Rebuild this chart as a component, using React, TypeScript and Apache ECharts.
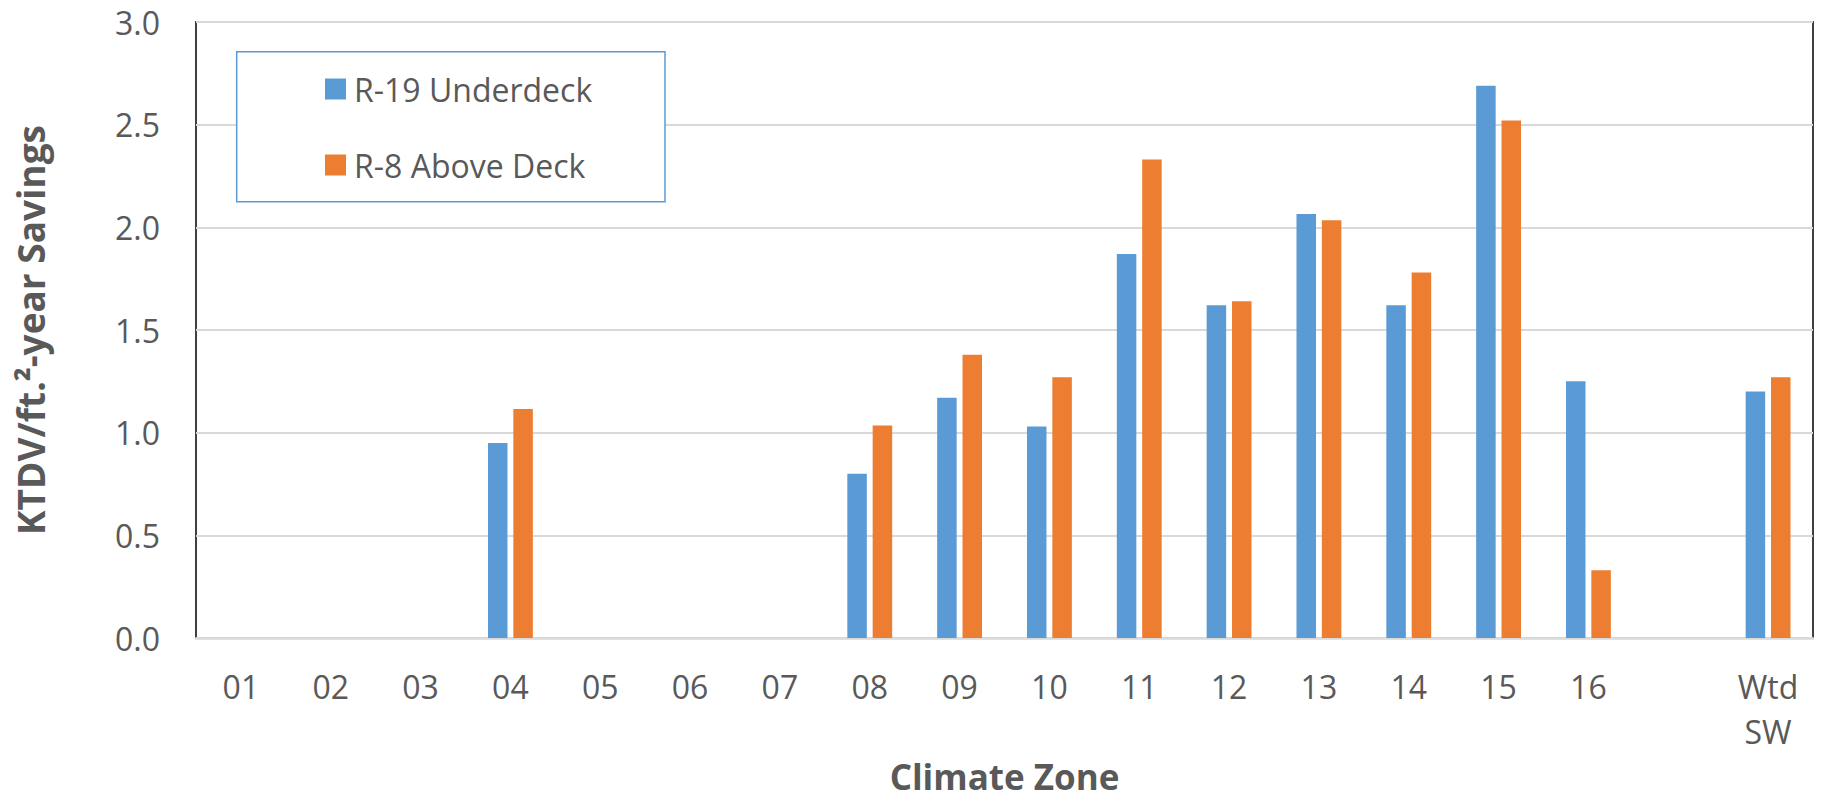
import React, { useEffect, useRef } from "react";
import * as echarts from "echarts";

const categories = ["01", "02", "03", "04", "05", "06", "07", "08", "09", "10", "11", "12", "13", "14", "15", "16", "", "Wtd\nSW"];
const underdeck = [null, null, null, 0.95, null, null, null, 0.80, 1.17, 1.03, 1.87, 1.62, 2.065, 1.62, 2.69, 1.25, null, 1.20];
const aboveDeck = [null, null, null, 1.115, null, null, null, 1.035, 1.38, 1.27, 2.33, 1.64, 2.035, 1.78, 2.52, 0.33, null, 1.27];
const seriesNames = ["R-19 Underdeck", "R-8 Above Deck"];
const yTicks = { min: 0, max: 3, interval: 0.5 };

const FONT = "'Open Sans', 'Noto Sans', sans-serif";
const TEXT = "#595959";

export default function App() {
  const ref = useRef<HTMLDivElement>(null);
  useEffect(() => {
    if (!ref.current) return;
    const chart = echarts.init(ref.current, null, { renderer: "svg" });
    chart.setOption({
      animation: false,
      backgroundColor: "#ffffff",
      textStyle: { fontFamily: FONT },
      grid: {
        left: 196,
        right: 13,
        top: 22,
        bottom: 163,
        show: true,
        borderColor: "#404040",
        borderWidth: 2,
        backgroundColor: "transparent",
      },
      legend: {
        orient: "vertical",
        left: 320,
        top: 68,
        z: 10,
        icon: "rect",
        itemWidth: 21,
        itemHeight: 21,
        itemGap: 44,
        textStyle: { fontFamily: FONT, fontSize: 32, color: TEXT, lineHeight: 32, padding: [0, 0, 0, 3] },
        data: seriesNames,
      },
      graphic: [
        {
          type: "rect",
          z: 5,
          shape: { x: 236.7, y: 51.7, width: 428.3, height: 150 },
          style: { fill: "#ffffff", stroke: "#5b9bd5", lineWidth: 1.5 },
        },
      ],
      xAxis: {
        type: "category",
        data: categories,
        name: "Climate Zone",
        nameLocation: "middle",
        nameGap: 121,
        nameTextStyle: { fontFamily: FONT, fontSize: 35, fontWeight: "bold", color: TEXT, lineHeight: 35 },
        axisLine: { show: true, lineStyle: { color: "#d9d9d9", width: 2.5 } },
        axisTick: { show: false },
        axisLabel: {
          interval: 0,
          margin: 26,
          fontFamily: FONT,
          fontSize: 32,
          lineHeight: 45,
          color: TEXT,
        },
      },
      yAxis: {
        type: "value",
        min: yTicks.min,
        max: yTicks.max,
        interval: yTicks.interval,
        name: "KTDV/ft.\u00b2-year Savings",
        nameLocation: "middle",
        nameRotate: 90,
        nameGap: 147,
        nameTextStyle: { fontFamily: FONT, fontSize: 37, fontWeight: "bold", color: TEXT, lineHeight: 37 },
        axisLine: { show: false },
        axisTick: { show: false },
        splitLine: { lineStyle: { color: "#d9d9d9", width: 2 } },
        axisLabel: {
          margin: 36,
          fontFamily: FONT,
          fontSize: 32,
          color: TEXT,
          formatter: (v: number) => v.toFixed(1),
        },
      },
      series: [
        {
          name: seriesNames[0],
          type: "bar",
          data: underdeck,
          barWidth: 19.5,
          barGap: "30%",
          itemStyle: { color: "#5b9bd5" },
        },
        {
          name: seriesNames[1],
          type: "bar",
          data: aboveDeck,
          barWidth: 19.5,
          barGap: "30%",
          itemStyle: { color: "#ed7d31" },
        },
      ],
    });
    return () => chart.dispose();
  }, []);
  return (
    <div
      ref={ref}
      style={{ position: "fixed", left: 0, top: 0, width: 1826, height: 801 }}
    />
  );
}
